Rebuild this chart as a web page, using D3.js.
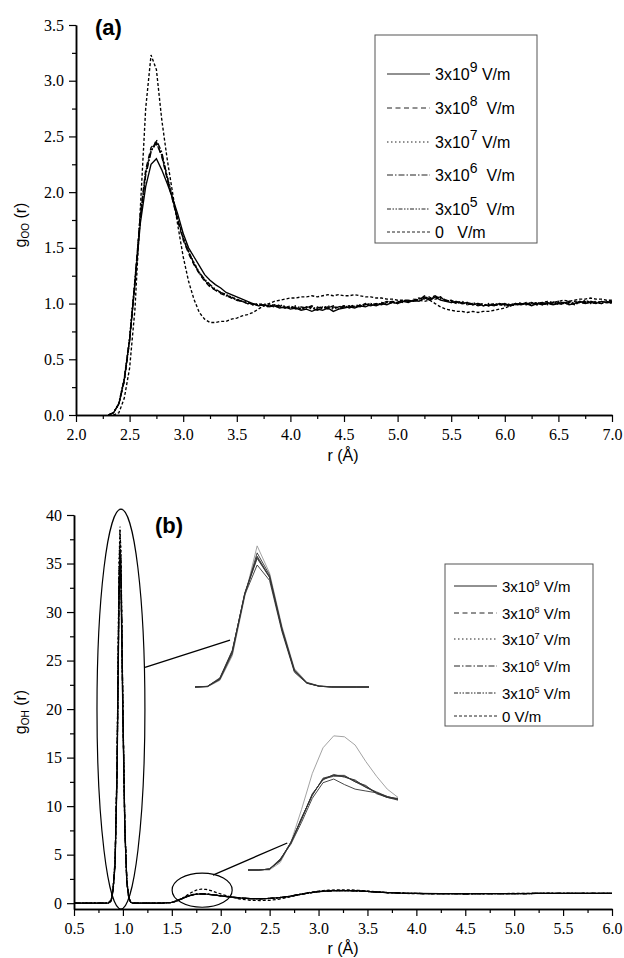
<!DOCTYPE html>
<html>
<head>
<meta charset="utf-8">
<script src="https://cdn.jsdelivr.net/npm/d3@7"></script>
<style>
  body { margin: 0; background: #fff; }
  svg { display: block; }
  svg .tick text { font-family: "Liberation Serif", serif !important; }
</style>
</head>
<body>
<div id="chart"></div>
<script>
// field strengths: exponent of 3x10^n V/m, "" means 0 V/m
const fieldExps = ["9", "8", "7", "6", "5", ""];

// ---- panel (a): g_OO(r) ----
const rOO = [
  2.30,2.35,2.40,2.45,2.50,2.55,2.60,2.65,2.70,2.75,
  2.80,2.85,2.90,2.95,3.00,3.05,3.10,3.15,3.20,3.25,
  3.30,3.35,3.40,3.45,3.50,3.55,3.60,3.65,3.70,3.75,
  3.80,3.85,3.90,3.95,4.00,4.05,4.10,4.15,4.20,4.25,
  4.30,4.35,4.40,4.45,4.50,4.55,4.60,4.65,4.70,4.75,
  4.80,4.85,4.90,4.95,5.00,5.05,5.10,5.15,5.20,5.25,
  5.30,5.35,5.40,5.45,5.50,5.55,5.60,5.65,5.70,5.75,
  5.80,5.85,5.90,5.95,6.00,6.05,6.10,6.15,6.20,6.25,
  6.30,6.35,6.40,6.45,6.50,6.55,6.60,6.65,6.70,6.75,
  6.80,6.85,6.90,6.95,7.00
];
const gOO_e9 = [
  0,0.02,0.1,0.32,0.68,1.18,1.72,2.05,2.25,2.3,
  2.2,2.08,1.95,1.8,1.63,1.5,1.42,1.34,1.26,1.21,
  1.17,1.14,1.1,1.08,1.06,1.04,1.02,1.0,0.98,0.99,
  0.97,0.98,0.96,0.97,0.95,0.96,0.94,0.95,0.93,0.95,
  0.94,0.96,0.93,0.95,0.96,0.97,0.96,0.98,0.97,0.99,
  0.98,1.0,0.99,1.01,1.0,1.02,1.01,1.03,1.02,1.05,
  1.03,1.06,1.03,1.02,1.01,1.02,1.0,1.01,0.99,1.0,
  0.98,0.99,0.98,1.0,0.99,0.98,1.0,0.99,1.0,0.98,
  1.0,0.99,1.01,0.99,1.0,1.01,0.99,1.0,1.02,1.0,
  1.01,1.0,1.02,1.01,1.01
];
const gOO_e8 = [
  0,0.02,0.1,0.3,0.66,1.2,1.8,2.2,2.4,2.45,
  2.32,2.12,1.93,1.74,1.57,1.45,1.35,1.27,1.2,1.15,
  1.12,1.09,1.07,1.05,1.03,1.02,1.0,0.99,1.0,0.98,
  0.99,0.97,0.98,0.96,0.97,0.95,0.97,0.96,0.98,0.96,
  0.97,0.95,0.97,0.96,0.98,0.97,0.99,0.98,0.99,1.0,
  0.99,1.01,1.0,1.02,1.01,1.03,1.02,1.04,1.03,1.07,
  1.04,1.05,1.06,1.03,1.02,1.0,1.01,0.99,1.0,0.98,
  0.99,0.98,0.99,0.98,1.0,0.99,0.98,1.0,0.99,1.01,
  0.99,1.0,0.99,1.01,1.0,0.99,1.01,1.02,1.0,1.01,
  1.02,1.01,1.0,1.02,1.01
];
const gOO_e7 = [
  0,0.02,0.11,0.33,0.7,1.22,1.78,2.18,2.38,2.43,
  2.34,2.15,1.95,1.76,1.6,1.47,1.37,1.28,1.21,1.16,
  1.12,1.1,1.07,1.06,1.04,1.02,1.01,1.0,0.99,1.0,
  0.98,0.99,0.97,0.98,0.96,0.98,0.96,0.97,0.95,0.97,
  0.96,0.98,0.96,0.97,0.97,0.98,0.97,0.99,0.98,1.0,
  0.99,1.0,1.01,1.0,1.02,1.01,1.03,1.02,1.04,1.05,
  1.06,1.04,1.05,1.03,1.01,1.02,1.0,0.99,1.01,0.99,
  1.0,0.98,1.0,0.99,0.98,1.0,0.99,1.01,0.99,1.0,
  1.01,0.99,1.0,1.02,0.99,1.01,1.0,1.01,1.02,1.0,
  1.02,1.01,1.01,1.02,1.0
];
const gOO_e6 = [
  0,0.02,0.1,0.31,0.67,1.19,1.76,2.15,2.36,2.47,
  2.36,2.14,1.94,1.75,1.58,1.46,1.36,1.28,1.22,1.17,
  1.13,1.1,1.08,1.05,1.04,1.02,1.01,0.99,1.0,0.98,
  0.97,0.99,0.97,0.96,0.98,0.96,0.95,0.97,0.96,0.94,
  0.96,0.97,0.95,0.97,0.98,0.96,0.98,0.97,0.99,0.98,
  1.0,0.99,1.01,1.02,1.0,1.02,1.03,1.02,1.04,1.06,
  1.05,1.07,1.04,1.03,1.02,1.01,1.02,1.0,0.99,1.0,
  0.99,0.98,1.0,0.99,0.99,0.98,1.0,0.99,1.01,1.0,
  0.99,1.01,1.0,0.99,1.01,1.0,1.02,1.0,1.01,1.03,
  1.01,1.02,1.0,1.01,1.02
];
const gOO_e5 = [
  0,0.02,0.1,0.31,0.68,1.2,1.77,2.17,2.37,2.44,
  2.33,2.13,1.94,1.76,1.59,1.47,1.36,1.27,1.21,1.16,
  1.12,1.1,1.08,1.06,1.03,1.02,1.0,1.0,0.98,0.99,
  0.98,0.97,0.99,0.97,0.96,0.97,0.95,0.96,0.97,0.95,
  0.97,0.96,0.98,0.95,0.97,0.98,0.97,0.98,1.0,0.99,
  1.0,1.0,1.02,1.01,1.01,1.03,1.02,1.03,1.05,1.04,
  1.05,1.04,1.06,1.02,1.03,1.01,1.0,1.01,0.99,1.0,
  0.98,1.0,0.99,0.99,1.0,0.98,0.99,1.0,1.0,0.99,
  1.01,1.0,0.99,1.0,1.02,1.0,1.01,0.99,1.01,1.02,
  1.0,1.01,1.02,1.01,1.01
];
const gOO_zero = [
  0,0,0.02,0.15,0.42,0.95,1.85,2.75,3.23,3.1,
  2.65,2.3,2.0,1.7,1.42,1.2,1.04,0.92,0.86,0.83,
  0.83,0.84,0.84,0.86,0.87,0.89,0.9,0.92,0.95,0.98,
  1.0,1.02,1.03,1.04,1.05,1.05,1.06,1.06,1.07,1.06,
  1.07,1.08,1.07,1.08,1.07,1.07,1.08,1.07,1.06,1.06,
  1.05,1.05,1.04,1.04,1.03,1.03,1.03,1.02,1.03,1.02,
  1.03,1.0,0.97,0.95,0.94,0.93,0.93,0.92,0.93,0.92,
  0.93,0.93,0.94,0.95,0.96,0.98,0.99,1.0,1.0,1.01,
  1.0,1.01,1.02,1.01,1.02,1.03,1.02,1.03,1.04,1.04,
  1.05,1.04,1.04,1.03,1.03
];
const gOO = [gOO_e9, gOO_e8, gOO_e7, gOO_e6, gOO_e5, gOO_zero];
const xTicksA = [2.0,2.5,3.0,3.5,4.0,4.5,5.0,5.5,6.0,6.5,7.0];
const yTicksA = [0.0,0.5,1.0,1.5,2.0,2.5,3.0,3.5];

// ---- panel (b): g_OH(r) ----
const rOH = [
  0.50,0.60,0.70,0.80,0.85,0.88,0.90,0.92,0.94,0.96,
  0.97,0.98,1.00,1.02,1.04,1.06,1.08,1.10,1.20,1.30,
  1.40,1.50,1.55,1.60,1.65,1.70,1.75,1.80,1.85,1.90,
  1.95,2.00,2.10,2.20,2.30,2.40,2.50,2.60,2.70,2.80,
  2.90,3.00,3.10,3.20,3.30,3.40,3.50,3.60,3.70,3.80,
  3.90,4.00,4.25,4.50,4.75,5.00,5.25,5.50,5.75,6.00
];
const gOH_e9 = [
  0,0,0,0,0,0.3,1.5,4,13,31,
  35,33,19,7.5,2.2,0.6,0.1,0,0,0,
  0.01,0.08,0.24,0.45,0.65,0.82,0.92,0.95,0.93,0.88,
  0.82,0.76,0.64,0.54,0.48,0.46,0.49,0.57,0.7,0.88,
  1.05,1.18,1.26,1.29,1.29,1.26,1.21,1.15,1.1,1.05,
  1.02,1.0,0.98,0.97,0.98,0.99,1.0,1.0,1.0,1.0
];
const gOH_e8 = [
  0,0,0,0,0,0.3,1.6,4.5,14,33,
  37,35,20,8,2.4,0.6,0.1,0,0,0,
  0.01,0.08,0.25,0.46,0.67,0.84,0.94,0.97,0.94,0.89,
  0.83,0.76,0.64,0.54,0.47,0.45,0.49,0.57,0.7,0.88,
  1.05,1.19,1.27,1.3,1.3,1.27,1.21,1.15,1.1,1.05,
  1.02,1.0,0.98,0.97,0.98,0.99,1.0,1.0,1.0,1.0
];
const gOH_e7 = [
  0,0,0,0,0,0.2,1.3,4,14,35,
  38.8,36,20,7.5,2.2,0.5,0.1,0,0,0,
  0.01,0.07,0.24,0.46,0.68,0.86,0.96,0.98,0.95,0.9,
  0.84,0.77,0.64,0.53,0.46,0.44,0.48,0.57,0.71,0.89,
  1.06,1.2,1.28,1.31,1.3,1.27,1.21,1.15,1.1,1.05,
  1.02,1.0,0.98,0.97,0.98,0.99,1.0,1.0,1.0,1.0
];
const gOH_e6 = [
  0,0,0,0,0,0.3,1.5,4.2,13.5,32,
  36,34,19.5,7.8,2.3,0.6,0.1,0,0,0,
  0.01,0.08,0.25,0.46,0.66,0.83,0.93,0.96,0.94,0.89,
  0.83,0.76,0.64,0.54,0.47,0.45,0.49,0.57,0.7,0.88,
  1.05,1.19,1.27,1.3,1.29,1.26,1.21,1.15,1.1,1.05,
  1.02,1.0,0.98,0.97,0.98,0.99,1.0,1.0,1.0,1.0
];
const gOH_e5 = [
  0,0,0,0,0,0.3,1.5,4.3,13.8,32.5,
  36.5,34.5,19.8,7.9,2.3,0.6,0.1,0,0,0,
  0.01,0.08,0.24,0.45,0.66,0.84,0.94,0.96,0.93,0.89,
  0.83,0.76,0.64,0.54,0.47,0.46,0.49,0.57,0.7,0.88,
  1.05,1.19,1.27,1.3,1.3,1.26,1.21,1.15,1.1,1.05,
  1.02,1.0,0.98,0.97,0.98,0.99,1.0,1.0,1.0,1.0
];
const gOH_zero = [
  0,0,0,0,0,0.2,1.3,4,14,34,
  38.5,36,20,7.5,2.2,0.5,0.1,0,0,0,
  0.01,0.06,0.2,0.45,0.78,1.1,1.35,1.45,1.42,1.3,
  1.12,0.95,0.65,0.42,0.3,0.27,0.3,0.42,0.62,0.88,
  1.1,1.25,1.34,1.38,1.38,1.33,1.25,1.17,1.1,1.04,
  1.0,0.98,0.97,0.98,0.99,1.0,1.0,1.0,1.0,1.0
];
const gOH = [gOH_e9, gOH_e8, gOH_e7, gOH_e6, gOH_e5, gOH_zero];
const xTicksB = [0.5,1.0,1.5,2.0,2.5,3.0,3.5,4.0,4.5,5.0,5.5,6.0];
const yTicksB = [0,5,10,15,20,25,30,35,40];

// inset 1: magnified first O-H peak
const rInset1 = [0.86,0.88,0.90,0.92,0.94,0.96,0.98,1.00,1.02,1.04,1.06,1.08,1.10,1.12,1.14];
const gInset1 = [
  [0,0.2,2.5,10,25,33.2,29,15,4,1,0.2,0,0,0,0],
  [0,0.15,2.2,9.5,25.5,35.6,30,15.8,4.5,1.1,0.25,0.05,0,0,0],
  [0,0.05,1.8,8.5,24.5,38.4,31,16.5,5,1.3,0.3,0.05,0,0,0],
  [0,0.15,2.3,9.8,25.3,35,29.8,15.5,4.3,1.1,0.2,0,0,0,0],
  [0,0.15,2.2,9.6,25.4,35.3,29.9,15.6,4.4,1.1,0.2,0,0,0,0],
  [0,0.1,2.0,9.0,25,36.5,30.5,16,4.7,1.2,0.25,0.05,0,0,0]
];
// inset 2: magnified hydrogen-bond peak
const rInset2 = [1.40,1.45,1.50,1.55,1.60,1.65,1.70,1.75,1.80,1.85,1.90,1.95,2.00,2.05,2.10];
const gInset2 = [
  [0,0,0.01,0.12,0.28,0.52,0.78,0.95,0.99,0.93,0.88,0.86,0.84,0.79,0.77],
  [0,0,0.01,0.11,0.3,0.56,0.82,0.99,1.03,1.02,0.97,0.91,0.84,0.79,0.76],
  [0,0,0,0.08,0.3,0.66,1.05,1.33,1.46,1.45,1.36,1.18,1.02,0.88,0.79],
  [0,0,0.01,0.11,0.3,0.55,0.83,0.98,1.04,1.01,0.98,0.9,0.85,0.8,0.77],
  [0,0,0.01,0.1,0.29,0.57,0.81,1.0,1.03,1.03,0.96,0.92,0.83,0.79,0.78],
  [0,0,0.01,0.1,0.3,0.56,0.82,0.99,1.02,1.02,0.96,0.9,0.84,0.8,0.77]
];

const dashes = [null, "5,3.5", "1.5,2.5", "6,2,1.5,2", "4,1.5,1.5,1.5,1.5,1.5", "3,2"];
const sans = "Liberation Sans, Arial, sans-serif";

const svg = d3.select("#chart").append("svg")
  .attr("width", 624)
  .attr("height", 958)
  .attr("font-family", sans);

function drawAxes(x, y, xTicks, yTicks, fmtX, fmtY, xMinor, yMinor) {
  const y0 = y.range()[0];
  const x0 = x.range()[0];
  const parts = [
    svg.append("g").attr("transform", `translate(0,${y0})`)
      .call(d3.axisBottom(x).tickValues(xMinor).tickSize(4).tickFormat("").tickSizeOuter(0)),
    svg.append("g").attr("transform", `translate(0,${y0})`)
      .call(d3.axisBottom(x).tickValues(xTicks).tickSize(7).tickPadding(7).tickFormat(fmtX).tickSizeOuter(0)),
    svg.append("g").attr("transform", `translate(${x0},0)`)
      .call(d3.axisLeft(y).tickValues(yMinor).tickSize(4).tickFormat("").tickSizeOuter(0)),
    svg.append("g").attr("transform", `translate(${x0},0)`)
      .call(d3.axisLeft(y).tickValues(yTicks).tickSize(7).tickPadding(5).tickFormat(fmtY).tickSizeOuter(0))
  ];
  parts.forEach(g => {
    g.attr("font-family", "Liberation Serif").attr("font-size", 16);
    g.select(".domain").attr("stroke", "#000").attr("stroke-width", 1.5);
    g.selectAll(".tick line").attr("stroke", "#000").attr("stroke-width", 1.2);
    g.selectAll(".tick text").attr("fill", "#000");
  });
}

function drawCurves(x, y, rs, sets, width, colorFn, dashFn) {
  const line = d3.line().x((d, i) => x(rs[i])).y(d => y(d));
  sets.forEach((vals, i) => {
    svg.append("path")
      .datum(vals)
      .attr("d", line)
      .attr("fill", "none")
      .attr("stroke", colorFn(i))
      .attr("stroke-width", width)
      .attr("stroke-dasharray", dashFn(i));
  });
}

function drawLegend(box, rowsY, lineX, textX, fontSize, supSize, supRise, suffixes, zeroLabel) {
  svg.append("rect")
    .attr("x", box[0]).attr("y", box[1])
    .attr("width", box[2] - box[0]).attr("height", box[3] - box[1])
    .attr("fill", "#fff").attr("stroke", "#555").attr("stroke-width", 1);
  rowsY.forEach((ry, i) => {
    svg.append("line")
      .attr("x1", lineX[0]).attr("x2", lineX[1])
      .attr("y1", ry - 6).attr("y2", ry - 6)
      .attr("stroke", "#222").attr("stroke-width", 1)
      .attr("stroke-dasharray", dashes[i]);
    const t = svg.append("text")
      .attr("x", textX).attr("y", ry)
      .attr("font-size", fontSize)
      .style("white-space", "pre");
    if (fieldExps[i]) {
      t.append("tspan").text("3x10");
      t.append("tspan").attr("dy", -supRise).attr("font-size", supSize).text(fieldExps[i]);
      t.append("tspan").attr("dy", supRise).text(suffixes[i]);
    } else {
      t.text(zeroLabel);
    }
  });
}

function yLabel(xPos, yPos, sub) {
  const t = svg.append("text")
    .attr("transform", `translate(${xPos},${yPos}) rotate(-90)`)
    .attr("text-anchor", "middle")
    .attr("font-size", 16);
  t.append("tspan").text("g");
  t.append("tspan").attr("dy", 3).attr("font-size", 10).text(sub);
  t.append("tspan").attr("dy", -3).text(" (r)");
}

// ===== panel (a) =====
const xA = d3.scaleLinear().domain([2, 7]).range([76, 612]);
const yA = d3.scaleLinear().domain([0, 3.5]).range([415, 25]);
const xMinorA = xTicksA.slice(0, -1).map(v => v + 0.25);
const yMinorA = yTicksA.slice(0, -1).map(v => v + 0.25);

drawAxes(xA, yA, xTicksA, yTicksA, d3.format(".1f"), d3.format(".1f"), xMinorA, yMinorA);
drawCurves(xA, yA, rOO, gOO, 1.35, () => "#000", i => dashes[i]);

svg.append("text").attr("x", 95).attr("y", 35)
  .attr("font-size", 22).attr("font-weight", "bold").text("(a)");
svg.append("text").attr("x", 343).attr("y", 461).attr("text-anchor", "middle")
  .attr("font-size", 16).text("r (Å)");
yLabel(26, 225, "OO");

drawLegend([375, 35, 537, 243], [80, 114, 148, 181, 215, 238], [387, 430], 435,
  16, 14, 8, [" V/m", "  V/m", " V/m", "  V/m", "  V/m"], "0   V/m");

// ===== panel (b) =====
const xB = d3.scaleLinear().domain([0.5, 6]).range([74, 612]);
const yB = d3.scaleLinear().domain([-0.6, 40]).range([909, 515]);
const xMinorB = xTicksB.slice(0, -1).map(v => v + 0.25);
const yMinorB = yTicksB.slice(0, -1).map(v => v + 2.5);

drawAxes(xB, yB, xTicksB, yTicksB, d3.format(".1f"), d3.format("d"), xMinorB, yMinorB);
drawCurves(xB, yB, rOH, gOH, 1.25, () => "#000", i => dashes[i]);

// highlight ellipses and leader lines
svg.append("ellipse")
  .attr("cx", xB(0.98)).attr("cy", yB(20))
  .attr("rx", xB(0.98 + 0.245) - xB(0.98)).attr("ry", yB(20) - yB(40.6))
  .attr("fill", "none").attr("stroke", "#000").attr("stroke-width", 1.2);
svg.append("ellipse")
  .attr("cx", xB(1.81)).attr("cy", yB(1.34))
  .attr("rx", xB(1.81 + 0.307) - xB(1.81)).attr("ry", yB(1.34) - yB(3.1))
  .attr("fill", "none").attr("stroke", "#000").attr("stroke-width", 1.2);
svg.append("line")
  .attr("x1", xB(1.226)).attr("y1", yB(24.3)).attr("x2", xB(2.095)).attr("y2", yB(27.1))
  .attr("stroke", "#000").attr("stroke-width", 1.3);
svg.append("line")
  .attr("x1", xB(1.92)).attr("y1", yB(2.9)).attr("x2", xB(2.68)).attr("y2", yB(6.2))
  .attr("stroke", "#000").attr("stroke-width", 1.3);

// insets
const xIn1 = d3.scaleLinear().domain([0.86, 1.14]).range([195, 369]);
const yIn1 = d3.scaleLinear().domain([0, 40]).range([687, 540]);
drawCurves(xIn1, yIn1, rInset1, gInset1, 0.9,
  i => i === 2 ? "#999" : "#333", () => null);
const xIn2 = d3.scaleLinear().domain([1.4, 2.1]).range([248, 398]);
const yIn2 = d3.scaleLinear().domain([0, 1.6]).range([870, 723]);
drawCurves(xIn2, yIn2, rInset2, gInset2, 0.9,
  i => i === 2 ? "#999" : "#333", () => null);

svg.append("text").attr("x", 155).attr("y", 533)
  .attr("font-size", 22).attr("font-weight", "bold").text("(b)");
svg.append("text").attr("x", 343).attr("y", 954).attr("text-anchor", "middle")
  .attr("font-size", 16).text("r (Å)");
yLabel(26, 712, "OH");

drawLegend([445, 564, 593, 726], [592, 619, 645, 672, 699, 722], [454, 497], 502,
  15, 9, 6, [" V/m", " V/m", " V/m", " V/m", " V/m"], "0 V/m");
</script>
</body>
</html>
